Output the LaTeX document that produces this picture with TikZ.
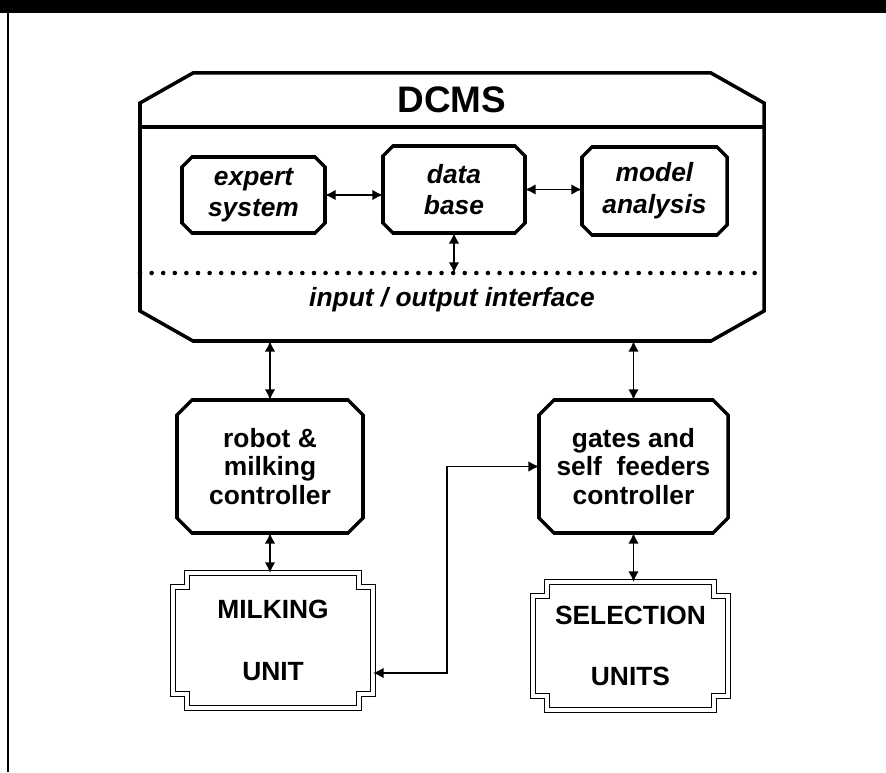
\documentclass[tikz,border=0pt]{standalone}
\usepackage{fontspec}
\setmainfont{Liberation Sans}
\usetikzlibrary{arrows.meta,calc}

% octagon outline round a node: node, cut x, cut y
\newcommand\cutframe[3]{%
  \draw[boxline] ($(#1.north west)+(#2,0)$) -- ($(#1.north east)+(-#2,0)$)
    -- ($(#1.north east)+(0,-#3)$) -- ($(#1.south east)+(0,#3)$)
    -- ($(#1.south east)+(-#2,0)$) -- ($(#1.south west)+(#2,0)$)
    -- ($(#1.south west)+(0,#3)$) -- ($(#1.north west)+(0,-#3)$) -- cycle;}
% double frame with notched corners: node, notch
\newcommand\notchframe[2]{%
  \draw[unitline] ($(#1.north west)+(#2,0)$) -- ($(#1.north east)+(-#2,0)$) -- ++(0,-#2)
    -- ($(#1.north east)+(0,-#2)$) -- ($(#1.south east)+(0,#2)$) -- ++(-#2,0)
    -- ($(#1.south east)+(-#2,0)$) -- ($(#1.south west)+(#2,0)$) -- ++(0,#2)
    -- ($(#1.south west)+(0,#2)$) -- ($(#1.north west)+(0,-#2)$) -- ++(#2,0) -- cycle;}

\begin{document}
\begin{tikzpicture}[
    >={Latex[length=6pt,width=6pt]},
    boxline/.style={line width=2pt},
    blank/.style={outer sep=0pt,inner sep=0pt},
    ital/.style={blank,align=center,font=\bfseries\itshape\fontsize{15}{18}\selectfont},
    ctrl/.style={blank,align=center,font=\bfseries\fontsize{15}{16}\selectfont},
    unit/.style={blank,align=center,font=\bfseries\fontsize{15}{35}\selectfont},
    unitline/.style={double,double distance=1.8pt,line width=0.8pt},
    link/.style={<->,line width=1.1pt},
    dotline/.style={line width=2.6pt,line cap=round,dash pattern=on 0pt off 6.6pt}]
    \useasboundingbox (0,0) rectangle (17.72,15.44);
    \fill (0,15.18) rectangle (17.72,15.44);
    \draw[line width=1.2pt] (0.16,0) -- (0.16,15.18);

    % DCMS block
    \draw (9.04,11.30) node[blank,minimum width=12.48cm,minimum height=5.36cm] (dcms) {};
    \cutframe{dcms}{1.06}{0.6}
    \draw (9.04,13.44) node[blank,font=\bfseries\fontsize{21}{24}\selectfont] (title) {DCMS};
    \draw[line width=2.4pt] ($(dcms.north west)+(0,-1.08)$) -- ($(dcms.north east)+(0,-1.08)$);
    \draw (5.07,11.54) node[ital,minimum width=2.86cm,minimum height=1.52cm] (expert) {expert\\system};
    \draw (9.08,11.65) node[ital,minimum width=2.84cm,minimum height=1.74cm] (base) {data\\base};
    \draw (13.09,11.62) node[ital,minimum width=2.9cm,minimum height=1.76cm] (model) {model\\analysis};
    \cutframe{expert}{0.2}{0.2}
    \cutframe{base}{0.2}{0.2}
    \cutframe{model}{0.2}{0.2}
    \coordinate (iow) at ($(dcms.west)+(0,-1.32)$);
    \coordinate (ioe) at ($(dcms.east)+(0,-1.32)$);
    \draw[dotline] (iow) -- (ioe);
    \draw (9.04,9.44) node[ital] (io) {input / output interface};
    \draw[link] (expert.east) -- (expert.east -| base.west);
    \draw[link] (base.east) -- (base.east -| model.west);
    \draw[link] (base.south) -- (base.south |- iow);

    % controllers and units
    \draw (5.4,6.11) node[ctrl,minimum width=3.72cm,minimum height=2.66cm] (robot) {robot \&\\milking\\controller};
    \draw (12.67,6.11) node[ctrl,minimum width=3.78cm,minimum height=2.66cm] (gates) {gates and\\self~~feeders\\controller};
    \cutframe{robot}{0.3}{0.3}
    \cutframe{gates}{0.3}{0.3}
    \draw (5.46,2.63) node[unit,minimum width=4cm,minimum height=2.7cm] (milking) {MILKING\\UNIT};
    \draw (12.61,2.52) node[unit,minimum width=3.9cm,minimum height=2.56cm] (selection) {SELECTION\\UNITS};
    \notchframe{milking}{0.28}
    \notchframe{selection}{0.28}

    \draw[link] (robot.north |- dcms.south) -- (robot.north);
    \draw[link] (gates.north |- dcms.south) -- (gates.north);
    \draw[link] (robot.south) -- (robot.south |- milking.north);
    \draw[link] (gates.south) -- (gates.south |- selection.north);
    \coordinate (turn) at (8.94,1.98);
    \draw[link,line width=0.9pt] (milking.east |- turn) -- (turn) |- (gates.west);
\end{tikzpicture}
\end{document}
